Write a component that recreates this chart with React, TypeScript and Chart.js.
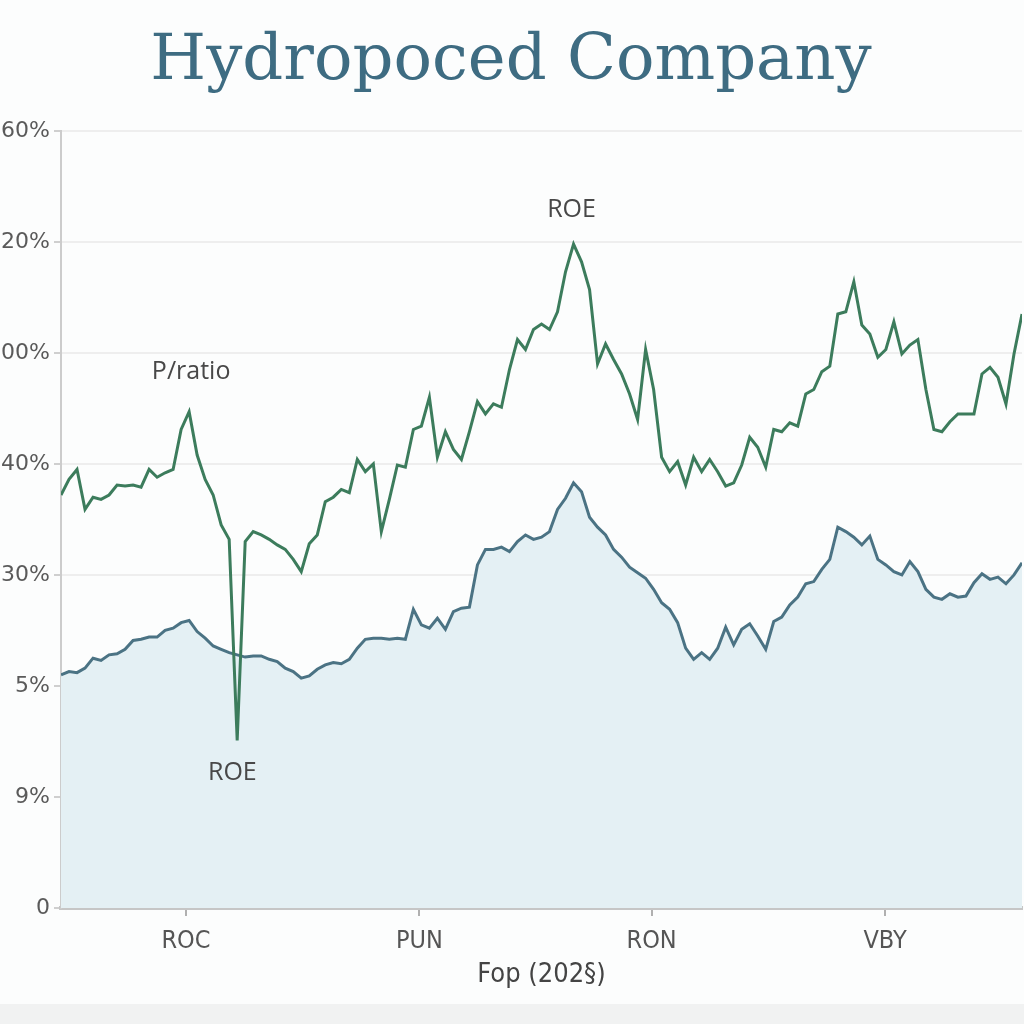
import { useEffect, useRef } from "react";
import { Chart, registerables } from "chart.js";

Chart.register(...registerables);

const titleText = "Hydropoced Company";
const xAxisTitle = "Fop (202§)";
// y tick labels, bottom to top (one per 10 units)
const yTickLabels = ["0", "9%", "5%", "30%", "40%", "00%", "20%", "60%"];
const xTickLabels = ["ROC", "PUN", "RON", "VBY"];
const xTickPositions = [15.6, 44.75, 73.75, 102.9];

const greenValues = [
  37.2, 38.6, 39.5, 35.9, 37.0, 36.8, 37.2, 38.1, 38.0, 38.1,
  37.9, 39.5, 38.8, 39.2, 39.5, 43.1, 44.7, 40.8, 38.6, 37.2,
  34.5, 33.2, 15.1, 33.0, 33.9, 33.6, 33.2, 32.7, 32.3, 31.4,
  30.3, 32.8, 33.6, 36.6, 37.0, 37.7, 37.4, 40.4, 39.3, 40.0,
  33.9, 36.8, 39.9, 39.7, 43.1, 43.4, 46.0, 40.6, 42.9, 41.3,
  40.4, 42.9, 45.6, 44.5, 45.4, 45.1, 48.5, 51.2, 50.3, 52.1,
  52.6, 52.1, 53.7, 57.3, 59.8, 58.2, 55.7, 49.0, 50.8, 49.4,
  48.1, 46.3, 44.0, 50.3, 46.7, 40.6, 39.3, 40.2, 38.1, 40.6,
  39.3, 40.4, 39.3, 38.0, 38.3, 39.9, 42.4, 41.5, 39.7, 43.1,
  42.9, 43.7, 43.4, 46.3, 46.7, 48.3, 48.8, 53.5, 53.7, 56.4,
  52.5, 51.7, 49.6, 50.3, 52.8, 49.9, 50.7, 51.2, 46.7, 43.1,
  42.9, 43.8, 44.5, 44.5, 44.5, 48.1, 48.7, 47.8, 45.4, 49.9,
  53.5,
];

const blueValues = [
  21.0, 21.3, 21.2, 21.6, 22.5, 22.3, 22.8, 22.9, 23.3, 24.1,
  24.2, 24.4, 24.4, 25.0, 25.2, 25.7, 25.9, 24.9, 24.3, 23.6,
  23.3, 23.0, 22.8, 22.6, 22.7, 22.7, 22.4, 22.2, 21.6, 21.3,
  20.7, 20.9, 21.5, 21.9, 22.1, 22.0, 22.4, 23.4, 24.2, 24.3,
  24.3, 24.2, 24.3, 24.2, 26.9, 25.5, 25.2, 26.1, 25.1, 26.7,
  27.0, 27.1, 30.9, 32.3, 32.3, 32.5, 32.1, 33.0, 33.6, 33.2,
  33.4, 33.9, 35.9, 36.9, 38.3, 37.5, 35.2, 34.3, 33.6, 32.3,
  31.6, 30.7, 30.2, 29.7, 28.7, 27.5, 26.9, 25.7, 23.4, 22.4,
  23.0, 22.4, 23.4, 25.3, 23.7, 25.1, 25.6, 24.5, 23.3, 25.8,
  26.2, 27.3, 28.0, 29.2, 29.4, 30.5, 31.4, 34.3, 33.9, 33.4,
  32.7, 33.5, 31.4, 30.9, 30.3, 30.0, 31.2, 30.3, 28.7, 28.0,
  27.8, 28.3, 28.0, 28.1, 29.3, 30.1, 29.6, 29.8, 29.2, 30.0,
  31.1,
];

const annotationTexts = ["P/ratio", "ROE", "ROE"];
const annotationX = [16.25, 63.75, 21.4];
const annotationY = [48.3, 62.9, 12.2];

export default function App() {
  const canvasRef = useRef<HTMLCanvasElement | null>(null);

  useEffect(() => {
    const canvas = canvasRef.current;
    if (!canvas) return;

    const bgPlugin = {
      id: "bgPlugin",
      beforeDraw(chart: any) {
        const { ctx, width, height } = chart;
        ctx.save();
        ctx.fillStyle = "#fcfdfd";
        ctx.fillRect(0, 0, width, height);
        ctx.fillStyle = "#f1f2f2";
        ctx.fillRect(0, 1004, width, height - 1004);
        ctx.restore();
      },
    };

    const annotationPlugin = {
      id: "annotationPlugin",
      afterDatasetsDraw(chart: any) {
        const { ctx, scales } = chart;
        ctx.save();
        ctx.font = "25px 'Open Sans', sans-serif";
        ctx.fillStyle = "#484848";
        ctx.textAlign = "center";
        ctx.textBaseline = "middle";
        annotationTexts.forEach((t, i) => {
          const px = scales.x.getPixelForValue(annotationX[i]);
          const py = scales.y.getPixelForValue(annotationY[i]);
          ctx.fillText(t, px, py);
        });
        ctx.restore();
      },
    };

    const chart = new Chart(canvas, {
      type: "line",
      data: {
        datasets: [
          {
            label: "P/ratio",
            data: greenValues.map((v, i) => ({ x: i, y: v })),
            borderColor: "#3c7c5c",
            borderWidth: 3,
            pointRadius: 0,
            tension: 0,
            fill: false,
          },
          {
            label: "ROE",
            data: blueValues.map((v, i) => ({ x: i, y: v })),
            borderColor: "#4b7384",
            backgroundColor: "#e4f0f4",
            borderWidth: 3,
            pointRadius: 0,
            tension: 0,
            fill: "start",
          },
        ],
      },
      options: {
        responsive: false,
        animation: false,
        layout: { padding: { left: 0, right: 2, bottom: 29, top: 0 } },
        plugins: {
          legend: { display: false },
          tooltip: { enabled: false },
          title: {
            display: true,
            text: titleText,
            color: "#3e6c82",
            font: { family: "'DejaVu Serif', serif", size: 64, weight: "normal" },
            padding: { top: 24, bottom: 30 },
          },
        },
        scales: {
          x: {
            type: "linear",
            min: 0,
            max: greenValues.length - 1,
            afterBuildTicks(scale: any) {
              scale.ticks = xTickPositions.map((value) => ({ value }));
            },
            afterFit(scale: any) {
              scale.height = 87;
            },
            ticks: {
              autoSkip: false,
              maxRotation: 0,
              padding: 10,
              color: "#555",
              font: { family: "'Liberation Sans Narrow', 'DejaVu Sans Condensed', sans-serif", size: 25 },
              callback: (_v: any, index: number) => xTickLabels[index],
            },
            grid: { drawOnChartArea: false, drawTicks: true, tickLength: 8, color: "#b0b0b0", lineWidth: 2 },
            border: { display: true, color: "#c6c6c6", width: 4, dash: [2, 2] },
            title: {
              display: true,
              text: xAxisTitle,
              color: "#444",
              font: { family: "'Liberation Sans Narrow', 'DejaVu Sans Condensed', sans-serif", size: 27 },
              padding: { top: 4, bottom: 4 },
            },
          },
          y: {
            type: "linear",
            min: 0,
            max: 70,
            afterFit(scale: any) {
              scale.width = 61;
            },
            ticks: {
              stepSize: 10,
              padding: 4,
              color: "#5a5a5a",
              font: { family: "'DejaVu Sans', sans-serif", size: 22 },
              callback: (v: any) => yTickLabels[Math.round(Number(v) / 10)],
            },
            grid: { color: "#eeeeee", lineWidth: 2, tickLength: 7, tickColor: "#cfcfcf" },
            border: { display: true, color: "#cccccc", width: 2 },
          },
        },
      } as any,
      plugins: [bgPlugin, annotationPlugin],
    });

    return () => chart.destroy();
  }, []);

  return (
    <div style={{ position: "fixed", left: 0, top: 0, width: 1024, height: 1024, overflow: "hidden" }}>
      <canvas ref={canvasRef} width={1024} height={1024} style={{ display: "block" }} />
    </div>
  );
}
